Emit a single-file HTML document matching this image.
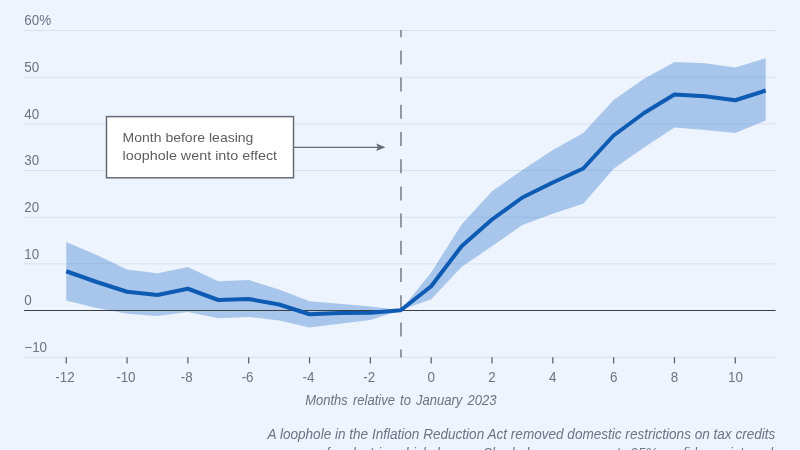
<!DOCTYPE html>
<html lang="en"><head><meta charset="utf-8"><title>Chart</title>
<style>
html,body{margin:0;padding:0;background:#eef4fd;}
body{width:800px;height:450px;overflow:hidden;position:relative;font-family:"Liberation Sans",sans-serif;}
svg{position:absolute;left:0;top:0;display:block}
text{font-family:"Liberation Sans",sans-serif;}
</style></head><body>
<svg width="800" height="450" viewBox="0 0 800 450">
<rect x="0" y="0" width="800" height="450" fill="#eef4fd"/>

<line x1="24" x2="775.6" y1="30.5" y2="30.5" stroke="#d7e0ef" stroke-width="1"/>
<line x1="24" x2="775.6" y1="77.17" y2="77.17" stroke="#d7e0ef" stroke-width="1"/>
<line x1="24" x2="775.6" y1="123.83" y2="123.83" stroke="#d7e0ef" stroke-width="1"/>
<line x1="24" x2="775.6" y1="170.5" y2="170.5" stroke="#d7e0ef" stroke-width="1"/>
<line x1="24" x2="775.6" y1="217.17" y2="217.17" stroke="#d7e0ef" stroke-width="1"/>
<line x1="24" x2="775.6" y1="263.83" y2="263.83" stroke="#d7e0ef" stroke-width="1"/>
<line x1="24" x2="775.6" y1="357.17" y2="357.17" stroke="#d7e0ef" stroke-width="1"/>
<path d="M66.25,242 L96.66,255 L127.07,269.5 L157.48,273.25 L187.89,267 L218.3,281.25 L248.71,280 L279.12,289.5 L309.53,301.25 L339.94,303.75 L370.35,306.5 L400.76,310.25 L431.17,272.5 L461.58,224.5 L491.99,191.25 L522.4,170 L552.81,150 L583.22,133 L613.63,100 L644.04,78.75 L674.45,62 L704.86,63.25 L735.27,67.5 L765.68,58.25 L765.68,120.5 L735.27,133 L704.86,130 L674.45,127.5 L644.04,147.5 L613.63,168.75 L583.22,203.75 L552.81,213.75 L522.4,225 L491.99,246.25 L461.58,267 L431.17,299.25 L400.76,310.25 L370.35,320 L339.94,323.75 L309.53,327.5 L279.12,320.5 L248.71,317 L218.3,318.25 L187.89,312 L157.48,316 L127.07,313.75 L96.66,308 L66.25,300.5Z" fill="rgb(22,103,200)" fill-opacity="0.32"/>
<line x1="24" x2="775.6" y1="310.5" y2="310.5" stroke="#3a3d42" stroke-width="1"/>
<line x1="400.96" x2="400.96" y1="30" y2="357.4" stroke="#7d838d" stroke-width="1.6" stroke-dasharray="14 13.2" stroke-dashoffset="6.8"/>
<path d="M66.25,271.25 L96.66,282 L127.07,291.75 L157.48,295 L187.89,288.75 L218.3,300 L248.71,299 L279.12,304.5 L309.53,314.25 L339.94,313 L370.35,312.75 L400.76,310.25 L431.17,286.25 L461.58,246.25 L491.99,219.5 L522.4,197.5 L552.81,182.5 L583.22,168.5 L613.63,135.5 L644.04,113 L674.45,94.5 L704.86,96.25 L735.27,100.25 L765.68,90.5" fill="none" stroke="#0d5bb3" stroke-width="4" stroke-linejoin="round" stroke-linecap="butt"/>
<line x1="66.25" x2="66.25" y1="357.2" y2="363.4" stroke="#555a63" stroke-width="1.2"/>
<line x1="127.07" x2="127.07" y1="357.2" y2="363.4" stroke="#555a63" stroke-width="1.2"/>
<line x1="187.89" x2="187.89" y1="357.2" y2="363.4" stroke="#555a63" stroke-width="1.2"/>
<line x1="248.71" x2="248.71" y1="357.2" y2="363.4" stroke="#555a63" stroke-width="1.2"/>
<line x1="309.53" x2="309.53" y1="357.2" y2="363.4" stroke="#555a63" stroke-width="1.2"/>
<line x1="370.35" x2="370.35" y1="357.2" y2="363.4" stroke="#555a63" stroke-width="1.2"/>
<line x1="431.17" x2="431.17" y1="357.2" y2="363.4" stroke="#555a63" stroke-width="1.2"/>
<line x1="491.99" x2="491.99" y1="357.2" y2="363.4" stroke="#555a63" stroke-width="1.2"/>
<line x1="552.81" x2="552.81" y1="357.2" y2="363.4" stroke="#555a63" stroke-width="1.2"/>
<line x1="613.63" x2="613.63" y1="357.2" y2="363.4" stroke="#555a63" stroke-width="1.2"/>
<line x1="674.45" x2="674.45" y1="357.2" y2="363.4" stroke="#555a63" stroke-width="1.2"/>
<line x1="735.27" x2="735.27" y1="357.2" y2="363.4" stroke="#555a63" stroke-width="1.2"/>
<rect x="106.5" y="116.6" width="187" height="61.2" fill="#ffffff" stroke="#666c77" stroke-width="1.5"/>
<line x1="293.5" x2="379" y1="147.3" y2="147.3" stroke="#666c77" stroke-width="1.3"/>
<path d="M385.4,147.3 L376.2,143.5 L377.8,147.3 L376.2,151.1 Z" fill="#666c77"/>
<text x="24.35" y="25.35" font-size="13.9" fill="#6d7380" textLength="26.84" lengthAdjust="spacingAndGlyphs">60%</text>
<text x="24.35" y="72.02" font-size="13.9" fill="#6d7380" textLength="14.92" lengthAdjust="spacingAndGlyphs">50</text>
<text x="24.35" y="118.68" font-size="13.9" fill="#6d7380" textLength="14.92" lengthAdjust="spacingAndGlyphs">40</text>
<text x="24.35" y="165.35" font-size="13.9" fill="#6d7380" textLength="14.92" lengthAdjust="spacingAndGlyphs">30</text>
<text x="24.35" y="212.02" font-size="13.9" fill="#6d7380" textLength="14.92" lengthAdjust="spacingAndGlyphs">20</text>
<text x="24.35" y="258.68" font-size="13.9" fill="#6d7380" textLength="14.92" lengthAdjust="spacingAndGlyphs">10</text>
<text x="24.35" y="305.35" font-size="13.9" fill="#6d7380" textLength="7.46" lengthAdjust="spacingAndGlyphs">0</text>
<text x="24.35" y="352.02" font-size="13.9" fill="#6d7380" textLength="22.75" lengthAdjust="spacingAndGlyphs">−10</text>
<text x="55.36" y="382.00" font-size="13.9" fill="#6d7380" textLength="19.38" lengthAdjust="spacingAndGlyphs">-12</text>
<text x="116.18" y="382.00" font-size="13.9" fill="#6d7380" textLength="19.38" lengthAdjust="spacingAndGlyphs">-10</text>
<text x="180.83" y="382.00" font-size="13.9" fill="#6d7380" textLength="11.92" lengthAdjust="spacingAndGlyphs">-8</text>
<text x="241.65" y="382.00" font-size="13.9" fill="#6d7380" textLength="11.92" lengthAdjust="spacingAndGlyphs">-6</text>
<text x="302.47" y="382.00" font-size="13.9" fill="#6d7380" textLength="11.92" lengthAdjust="spacingAndGlyphs">-4</text>
<text x="363.29" y="382.00" font-size="13.9" fill="#6d7380" textLength="11.92" lengthAdjust="spacingAndGlyphs">-2</text>
<text x="427.44" y="382.00" font-size="13.9" fill="#6d7380" textLength="7.46" lengthAdjust="spacingAndGlyphs">0</text>
<text x="488.26" y="382.00" font-size="13.9" fill="#6d7380" textLength="7.46" lengthAdjust="spacingAndGlyphs">2</text>
<text x="549.08" y="382.00" font-size="13.9" fill="#6d7380" textLength="7.46" lengthAdjust="spacingAndGlyphs">4</text>
<text x="609.90" y="382.00" font-size="13.9" fill="#6d7380" textLength="7.46" lengthAdjust="spacingAndGlyphs">6</text>
<text x="670.72" y="382.00" font-size="13.9" fill="#6d7380" textLength="7.46" lengthAdjust="spacingAndGlyphs">8</text>
<text x="728.11" y="382.00" font-size="13.9" fill="#6d7380" textLength="14.92" lengthAdjust="spacingAndGlyphs">10</text>
<text x="122.62" y="142.20" font-size="13.6" fill="#5e5e5e" textLength="130.77" lengthAdjust="spacingAndGlyphs">Month before leasing</text>
<text x="122.62" y="159.80" font-size="13.6" fill="#5e5e5e" textLength="154.48" lengthAdjust="spacingAndGlyphs">loophole went into effect</text>
<text x="305.13" y="404.70" font-size="14.3" fill="#6d7380" font-style="italic" word-spacing="1.6" textLength="191.28" lengthAdjust="spacingAndGlyphs">Months relative to January 2023</text>
<text x="267.62" y="439.40" font-size="14.3" fill="#6d7380" font-style="italic" textLength="507.73" lengthAdjust="spacingAndGlyphs">A loophole in the Inflation Reduction Act removed domestic restrictions on tax credits</text>
<text x="325.88" y="457.50" font-size="14.3" fill="#6d7380" font-style="italic" textLength="450.74" lengthAdjust="spacingAndGlyphs">for electric vehicle leases. Shaded area represents 95% confidence interval.</text>
</svg></body></html>
